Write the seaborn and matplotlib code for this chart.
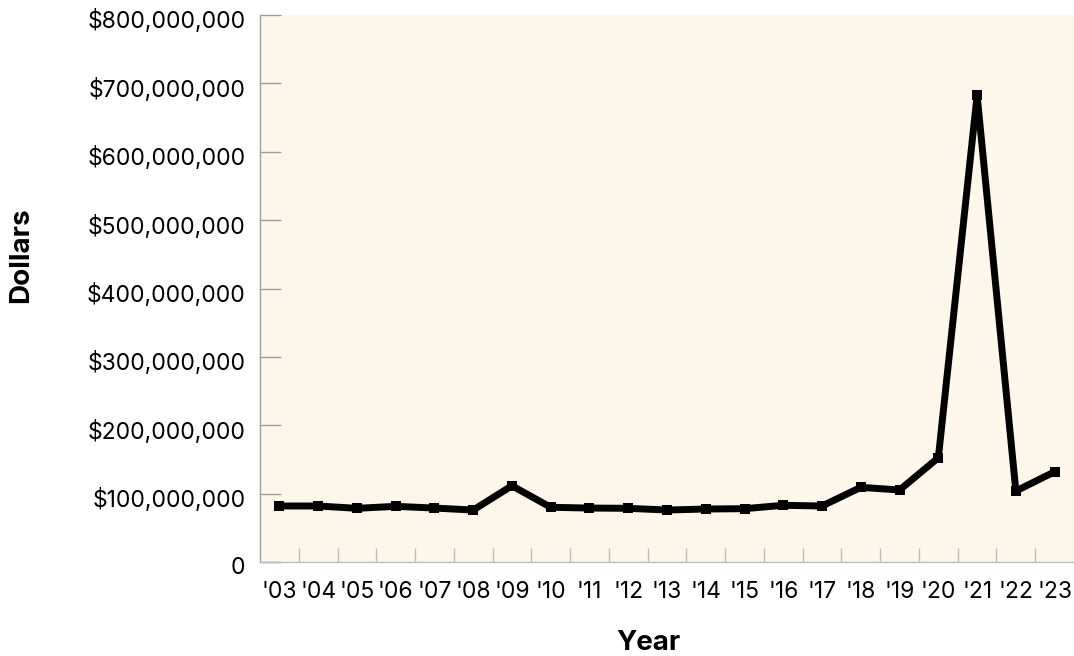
import matplotlib
matplotlib.use("Agg")
import matplotlib.pyplot as plt
import matplotlib.ticker as mticker
import matplotlib.transforms as mtransforms
import pandas as pd
import seaborn as sns

# values (dollars, millions)
years = ["'03", "'04", "'05", "'06", "'07", "'08", "'09", "'10", "'11", "'12", "'13",
         "'14", "'15", "'16", "'17", "'18", "'19", "'20", "'21", "'22", "'23"]
dollars_m = [81.9, 81.9, 78.5, 81.4, 78.9, 76.0, 111.5, 80.0, 78.9, 78.5, 76.0,
             77.5, 78.0, 82.9, 81.9, 109.2, 105.3, 152.5, 682.7, 103.8, 132.0]
y_ticks = [0, 100e6, 200e6, 300e6, 400e6, 500e6, 600e6, 700e6, 800e6]

df = pd.DataFrame({"Year": years, "Dollars": [v * 1e6 for v in dollars_m]})

sns.set_theme(style="white")
plt.rcParams["font.family"] = ["Inter", "DejaVu Sans"]

fig, ax = plt.subplots(figsize=(10.74, 6.56), dpi=100)
fig.subplots_adjust(left=260 / 1074, right=1.0, bottom=1 - 562 / 656, top=1 - 15 / 656)
ax.set_facecolor("#FDF6EB")

sns.lineplot(data=df, x="Year", y="Dollars", ax=ax, color="black", linewidth=5,
             marker="s", markersize=7, markeredgewidth=0, sort=False)
for line in ax.lines:
    line.set_clip_on(False)

ax.set_xlim(-0.5, len(years) - 0.5)
ax.set_ylim(0, 800e6)
ax.set_yticks(y_ticks)
ax.yaxis.set_major_formatter(
    mticker.FuncFormatter(lambda v, _: "0" if v == 0 else f"${v:,.0f}"))

ax.set_xticks(range(len(years)))
ax.set_xticklabels(years)
ax.set_xticks([i + 0.5 for i in range(len(years) - 1)], minor=True)

ax.tick_params(axis="x", which="major", length=0, pad=14, labelsize=16.5, colors="black")
ax.tick_params(axis="x", which="minor", direction="in", length=10, width=1,
               color="#BDBDBD", bottom=True)
ax.tick_params(axis="y", which="major", direction="in", length=15, width=1,
               color="#9E9E9E", pad=10.5, labelsize=16.5, labelcolor="black", left=True)

# y labels sit a few pixels below their tick in the reference
shift = mtransforms.ScaledTranslation(0, -4 / 100, fig.dpi_scale_trans)
for lbl in ax.get_yticklabels():
    lbl.set_transform(lbl.get_transform() + shift)

for side in ["top", "right"]:
    ax.spines[side].set_visible(False)
ax.spines["left"].set_color("#9E9E9E")
ax.spines["bottom"].set_color("#BDBDBD")
ax.spines["left"].set_linewidth(1)
ax.spines["bottom"].set_linewidth(1)

ax.set_xlabel("Year", fontsize=20, fontweight="bold", color="black")
ax.set_ylabel("Dollars", fontsize=20, fontweight="bold", color="black")
ax.xaxis.set_label_coords((648 - 260) / 814, (562 - 630) / 547)
ax.yaxis.set_label_coords((34 - 260) / 814, (562 - 255) / 547)

fig.savefig("out.png", dpi=100, facecolor="white")
